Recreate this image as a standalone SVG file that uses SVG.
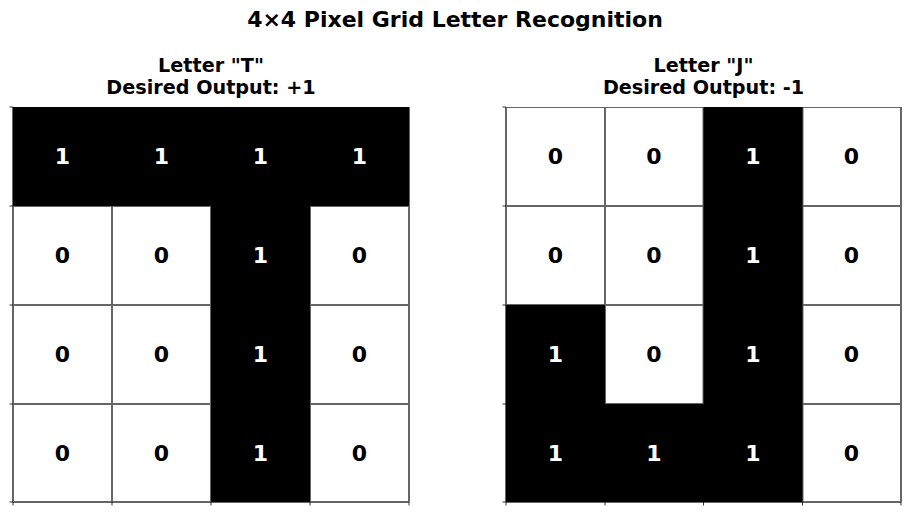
<svg xmlns="http://www.w3.org/2000/svg" width="910" height="516" viewBox="0 0 910 516">
<style>
text{font-family:"DejaVu Sans","Liberation Sans",sans-serif;font-weight:bold;text-anchor:middle}
.title{font-size:22px}
.sub{font-size:19.2px}
.n{font-size:22px}
.w{fill:#fff}
.k{fill:#000}
.cellk{fill:#000}
.cellw{fill:#fff}
.grid{stroke:#000;stroke-opacity:0.6;stroke-width:2;fill:none}
.tick{stroke:#000;stroke-width:0.8}
</style>
<defs>
<clipPath id="clipL"><rect x="12" y="107" width="398" height="396"/></clipPath>
<clipPath id="clipR"><rect x="505" y="107" width="397" height="396"/></clipPath>
</defs>
<rect width="910" height="516" fill="#fff"/>
<text class="title" x="455" y="26.5">4×4 Pixel Grid Letter Recognition</text>

<g id="panel-T">
<text class="sub" x="211" y="72.3">Letter "T"</text>
<text class="sub" x="211" y="93.5">Desired Output: +1</text>
<g id="cells-T">
<rect class="cellk" x="13" y="107" width="396" height="99"/>
<rect class="cellk" x="211" y="206" width="99" height="296"/>
</g>
<g clip-path="url(#clipL)" class="grid">
<path d="M13 107V502M112 107V502M211 107V502M310 107V502M409 107V502M13 206H409M13 305H409M13 404H409M13 502H409"/>
</g>
<g class="tick">
<path d="M13 107h-3.5M13 206h-3.5M13 305h-3.5M13 404h-3.5M13 502h-3.5M13 502v3.5M112 502v3.5M211 502v3.5M310 502v3.5M409 502v3.5"/>
</g>
<g id="nums-T">
<text class="n w" x="62.5" y="164">1</text><text class="n w" x="161.5" y="164">1</text><text class="n w" x="260.5" y="164">1</text><text class="n w" x="359.5" y="164">1</text>
<text class="n k" x="62.5" y="263">0</text><text class="n k" x="161.5" y="263">0</text><text class="n w" x="260.5" y="263">1</text><text class="n k" x="359.5" y="263">0</text>
<text class="n k" x="62.5" y="362">0</text><text class="n k" x="161.5" y="362">0</text><text class="n w" x="260.5" y="362">1</text><text class="n k" x="359.5" y="362">0</text>
<text class="n k" x="62.5" y="461">0</text><text class="n k" x="161.5" y="461">0</text><text class="n w" x="260.5" y="461">1</text><text class="n k" x="359.5" y="461">0</text>
</g>
</g>

<g id="panel-J">
<text class="sub" x="703.5" y="72.3">Letter "J"</text>
<text class="sub" x="703.5" y="93.5">Desired Output: -1</text>
<g id="cells-J">
<rect class="cellk" x="703.5" y="107" width="99" height="395"/>
<rect class="cellk" x="506" y="305" width="99" height="197"/>
<rect class="cellk" x="605" y="404" width="99" height="98"/>
</g>
<g clip-path="url(#clipR)" class="grid">
<path d="M506 107V502M605 107V502M703.5 107V502M802.5 107V502M901 107V502M506 107H901M506 206H901M506 305H901M506 404H901M506 502H901"/>
</g>
<g class="tick">
<path d="M506 107h-3.5M506 206h-3.5M506 305h-3.5M506 404h-3.5M506 502h-3.5M506 502v3.5M605 502v3.5M703.5 502v3.5M802.5 502v3.5M901 502v3.5"/>
</g>
<g id="nums-J">
<text class="n k" x="555.5" y="164">0</text><text class="n k" x="654" y="164">0</text><text class="n w" x="753" y="164">1</text><text class="n k" x="851.5" y="164">0</text>
<text class="n k" x="555.5" y="263">0</text><text class="n k" x="654" y="263">0</text><text class="n w" x="753" y="263">1</text><text class="n k" x="851.5" y="263">0</text>
<text class="n w" x="555.5" y="362">1</text><text class="n k" x="654" y="362">0</text><text class="n w" x="753" y="362">1</text><text class="n k" x="851.5" y="362">0</text>
<text class="n w" x="555.5" y="461">1</text><text class="n w" x="654" y="461">1</text><text class="n w" x="753" y="461">1</text><text class="n k" x="851.5" y="461">0</text>
</g>
</g>
</svg>
